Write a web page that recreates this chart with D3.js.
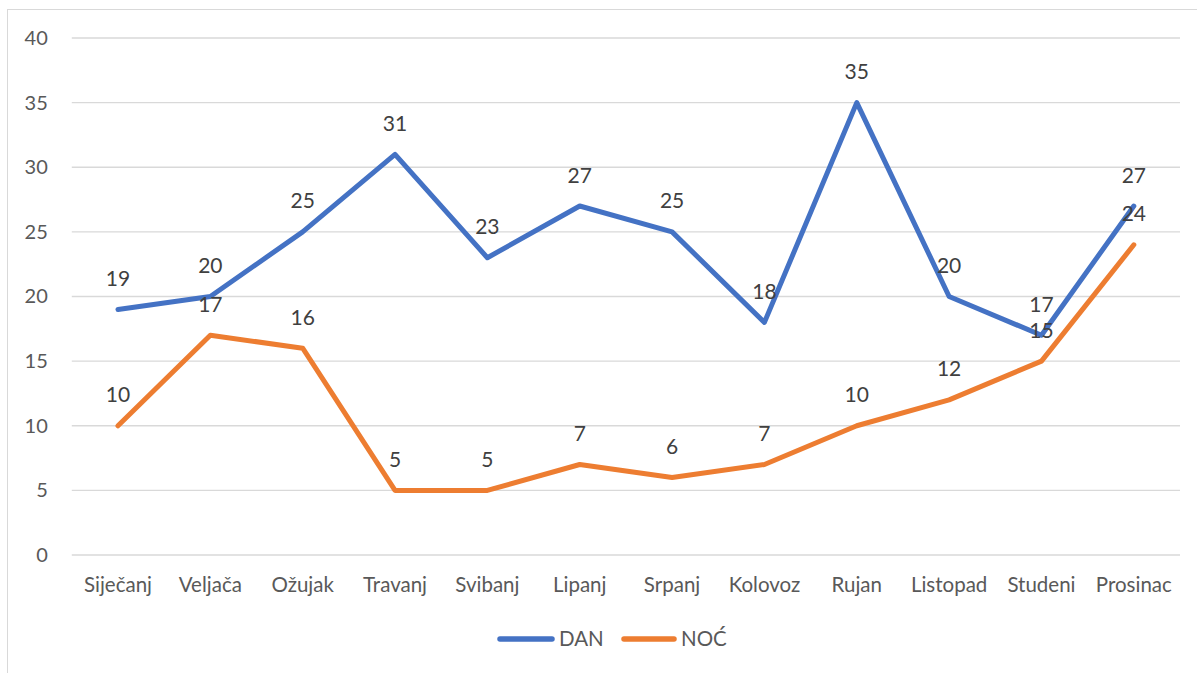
<!DOCTYPE html>
<html><head><meta charset="utf-8">
<script src="https://cdn.jsdelivr.net/npm/d3@7"></script>
<style>body{margin:0;background:#fff;}svg{display:block;}</style>
</head><body>
<svg id="c" width="1197" height="673"></svg>
<script>
const categories = ["Siječanj","Veljača","Ožujak","Travanj","Svibanj","Lipanj","Srpanj","Kolovoz","Rujan","Listopad","Studeni","Prosinac"];
const dan = [19,20,25,31,23,27,25,18,35,20,17,27];
const noc = [10,17,16,5,5,7,6,7,10,12,15,24];
const seriesNames = ["DAN","NOĆ"];
const seriesColors = ["#4472C4","#ED7D31"];
const yTicks = [0,5,10,15,20,25,30,35,40];

(function(){
const svg = d3.select("#c");
const font = "Lato, 'Open Sans', sans-serif";
svg.append("rect").attr("x",7.5).attr("y",9.5).attr("width",1300).attr("height",800)
  .attr("fill","none").attr("stroke","#d9d9d9").attr("stroke-width",1);

const pl = 71.8, pr = 1180, pt = 38, pb = 555;
const x = d3.scaleBand().domain(categories).range([pl,pr]);
const y = d3.scaleLinear().domain([0,40]).range([pb,pt]);

const g = svg.append("g");
g.selectAll(".grid").data(yTicks).enter().append("line")
  .attr("x1",pl).attr("x2",pr).attr("y1",d=>y(d)).attr("y2",d=>y(d))
  .attr("stroke","#d9d9d9").attr("stroke-width",1.3);

const yAxis = d3.axisLeft(y).tickValues(yTicks).tickSize(0).tickPadding(24);
const ya = g.append("g").attr("transform",`translate(${pl},0)`).call(yAxis);
ya.select(".domain").remove();
ya.selectAll("text").attr("fill","#595959").style("font-family",font).style("font-size","20px");

const xAxis = d3.axisBottom(x).tickSize(0).tickPadding(22);
const xa = g.append("g").attr("transform",`translate(0,${pb})`).call(xAxis);
xa.select(".domain").remove();
xa.selectAll("text").attr("fill","#595959").style("font-family",font).style("font-size","20.5px");

const cx = d => x(d) + x.bandwidth()/2;
const line = d3.line().x((d,i)=>cx(categories[i])).y(d=>y(d));
[dan,noc].forEach((vals,si)=>{
  g.append("path").datum(vals).attr("d",line).attr("fill","none")
    .attr("stroke",seriesColors[si]).attr("stroke-width",5).attr("stroke-linejoin","round").attr("stroke-linecap","round");
});
[dan,noc].forEach((vals,si)=>{
  g.selectAll(".lbl"+si).data(vals).enter().append("text")
    .attr("x",(d,i)=>cx(categories[i])).attr("y",d=>y(d)-23.5)
    .attr("text-anchor","middle")
    .attr("fill","#404040").style("font-family",font).style("font-size","21px").text(d=>d);
});

const leg = [{x:500,x2:552,tx:559},{x:624,x2:674,tx:681}];
leg.forEach((l,i)=>{
  svg.append("line").attr("x1",l.x).attr("x2",l.x2).attr("y1",639).attr("y2",639)
    .attr("stroke",seriesColors[i]).attr("stroke-width",5.5).attr("stroke-linecap","round");
  svg.append("text").attr("x",l.tx).attr("y",646).attr("fill","#595959")
    .style("font-family",font).style("font-size","20.5px").text(seriesNames[i]);
});
})();
</script>
</body></html>
